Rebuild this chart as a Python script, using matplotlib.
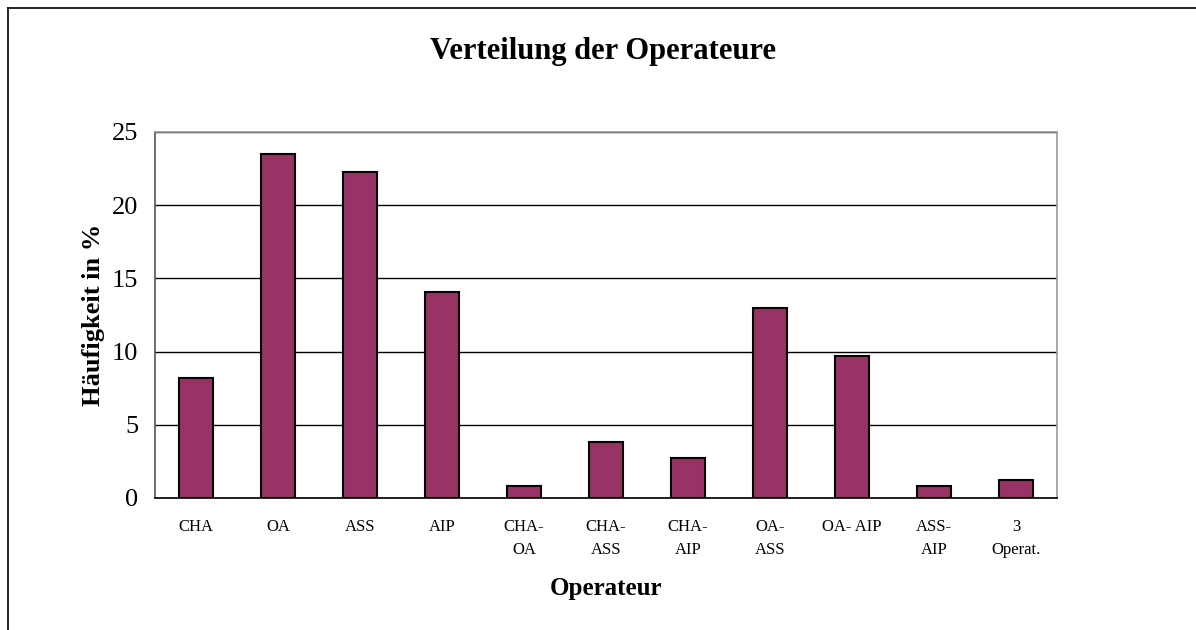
import matplotlib.pyplot as plt
from matplotlib.lines import Line2D

# Operateur-Kombinationen und Häufigkeit in %
categories = ["CHA", "OA", "ASS", "AIP", "CHA-\nOA", "CHA-\nASS", "CHA-\nAIP",
              "OA-\nASS", "OA- AIP", "ASS-\nAIP", "3\nOperat."]
values = [8.2, 23.5, 22.3, 14.1, 0.8, 3.8, 2.7, 13.0, 9.7, 0.8, 1.2]
yticks = [0, 5, 10, 15, 20, 25]

plt.rcParams['font.family'] = ['Liberation Serif', 'DejaVu Serif']

fig = plt.figure(figsize=(11.96, 6.3), dpi=100)
ax = fig.add_axes([155 / 1196, 1 - 498 / 630, (1057 - 155) / 1196, (498 - 132) / 630])

x = list(range(len(categories)))
ax.bar(x, values, width=0.42, color='#993366', edgecolor='black', linewidth=1.5, zorder=3)

ax.set_xlim(-0.5, len(categories) - 0.5)
ax.set_ylim(0, 25)
ax.set_yticks(yticks)
ax.set_yticklabels([str(t) for t in yticks], fontsize=19)
ax.yaxis.grid(True, color='black', linewidth=1)
ax.set_axisbelow(True)
ax.tick_params(axis='both', length=0)
ax.tick_params(axis='y', pad=12)
ax.tick_params(axis='x', pad=15)
ax.set_xticks(x)
ax.set_xticklabels(categories, fontsize=12, linespacing=1.6)

for side in ['top', 'right']:
    ax.spines[side].set_color('#999999')
ax.spines['left'].set_color('#555555')
ax.spines['bottom'].set_color('black')
for s in ax.spines.values():
    s.set_linewidth(1.2)

ax.set_ylabel("Häufigkeit in %", fontsize=19, fontweight='bold', labelpad=5)
ax.set_xlabel("Operateur", fontsize=18, fontweight='bold', labelpad=14)
fig.text(603 / 1196, 1 - 52 / 630, "Verteilung der Operateure", ha='center', va='center',
         fontsize=22, fontweight='bold')

# Rahmen des Diagrammbereichs (links und oben)
fig.add_artist(Line2D([8 / 1196, 8 / 1196], [0, 1 - 8 / 630], color='black', linewidth=1.2))
fig.add_artist(Line2D([8 / 1196, 1], [1 - 8 / 630, 1 - 8 / 630], color='black', linewidth=1.2))

fig.savefig("out.png", dpi=100)
